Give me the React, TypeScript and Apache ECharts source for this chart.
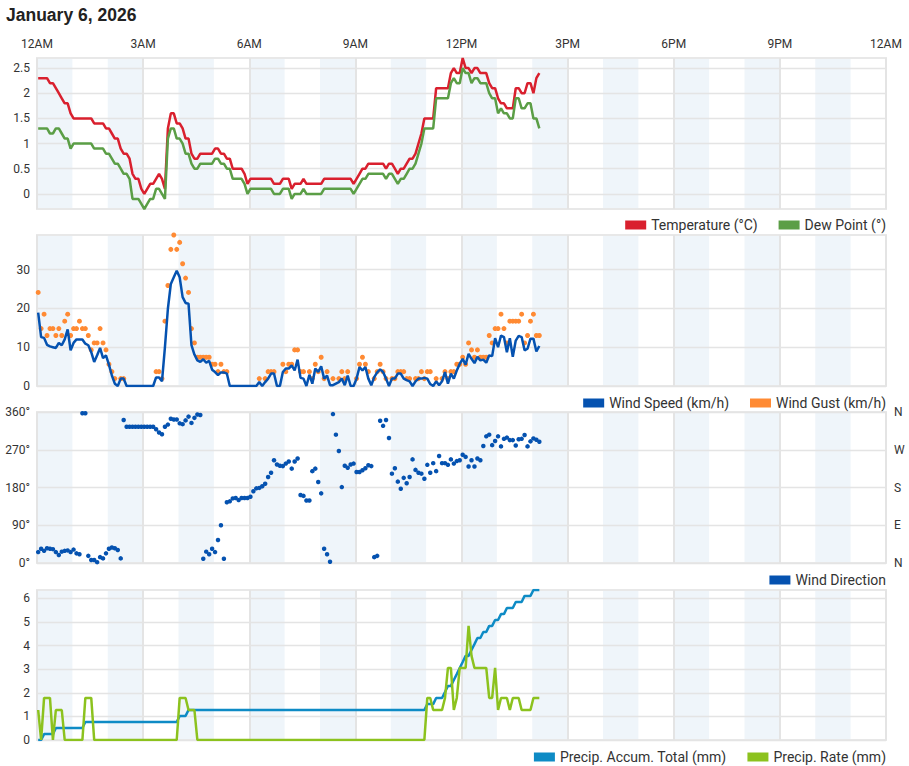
import React, { useEffect, useRef } from "react";
import * as echarts from "echarts";

// ---- time axis ----
const TIME_LABELS = ["12AM", "3AM", "6AM", "9AM", "12PM", "3PM", "6PM", "9PM", "12AM"];
const FIRST_SAMPLE_MIN = 2; // first observation at 00:02
const SAMPLE_STEP_MIN = 5; // one observation every 5 minutes
const SHADED_HOURS = [0, 2, 4, 6, 8, 10, 12, 14, 16, 18, 20, 22];

// ---- panel 1 : temperature / dew point (°C) ----
const TEMP = [
  2.3, 2.3, 2.3, 2.3, 2.2, 2.2, 2.1, 2.0, 1.9, 1.8,
  1.8, 1.6, 1.5, 1.5, 1.5, 1.5, 1.5, 1.5, 1.5, 1.4,
  1.4, 1.4, 1.4, 1.3, 1.3, 1.2, 1.1, 1.1, 0.9, 0.8,
  0.8, 0.7, 0.4, 0.3, 0.3, 0.1, 0.0, 0.1, 0.2, 0.2,
  0.3, 0.4, 0.3, 0.1, 1.3, 1.6, 1.6, 1.4, 1.4, 1.3,
  1.1, 1.1, 0.8, 0.7, 0.7, 0.8, 0.8, 0.8, 0.8, 0.8,
  0.9, 0.9, 0.8, 0.8, 0.7, 0.7, 0.5, 0.5, 0.5, 0.5,
  0.4, 0.2, 0.3, 0.3, 0.3, 0.3, 0.3, 0.3, 0.3, 0.3,
  0.2, 0.2, 0.2, 0.3, 0.3, 0.3, 0.1, 0.2, 0.2, 0.2,
  0.3, 0.2, 0.2, 0.2, 0.2, 0.2, 0.2, 0.3, 0.3, 0.3,
  0.3, 0.3, 0.3, 0.3, 0.3, 0.3, 0.3, 0.2, 0.3, 0.4,
  0.5, 0.5, 0.6, 0.6, 0.6, 0.6, 0.6, 0.6, 0.5, 0.6,
  0.6, 0.5, 0.4, 0.5, 0.5, 0.6, 0.7, 0.7, 0.8, 1.0,
  1.2, 1.5, 1.5, 1.5, 1.5, 2.1, 2.1, 2.1, 2.1, 2.1,
  2.4, 2.5, 2.4, 2.4, 2.7, 2.5, 2.5, 2.4, 2.5, 2.5,
  2.4, 2.4, 2.4, 2.2, 2.1, 2.1, 1.9, 1.8, 1.8, 1.7,
  1.7, 1.7, 2.1, 2.1, 2.0, 2.0, 2.2, 2.2, 2.0, 2.3,
  2.4,
];
const DEW = [
  1.3, 1.3, 1.3, 1.3, 1.2, 1.2, 1.3, 1.3, 1.2, 1.1,
  1.1, 0.9, 1.0, 1.0, 1.0, 1.0, 1.0, 1.0, 1.0, 0.9,
  0.9, 0.9, 0.9, 0.8, 0.8, 0.7, 0.6, 0.6, 0.5, 0.4,
  0.4, 0.3, -0.1, -0.1, -0.1, -0.2, -0.3, -0.2, -0.1, -0.1,
  0.1, 0.1, 0.0, -0.1, 1.1, 1.3, 1.3, 1.1, 1.1, 1.0,
  0.8, 0.8, 0.6, 0.5, 0.5, 0.6, 0.6, 0.6, 0.6, 0.6,
  0.7, 0.7, 0.6, 0.6, 0.5, 0.5, 0.3, 0.3, 0.3, 0.3,
  0.2, 0.0, 0.1, 0.1, 0.1, 0.1, 0.1, 0.1, 0.1, 0.1,
  0.0, 0.0, 0.0, 0.1, 0.1, 0.1, -0.1, 0.0, 0.0, 0.0,
  0.1, 0.0, 0.0, 0.0, 0.0, 0.0, 0.0, 0.1, 0.1, 0.1,
  0.1, 0.1, 0.1, 0.1, 0.1, 0.1, 0.1, 0.0, 0.1, 0.2,
  0.3, 0.3, 0.4, 0.4, 0.4, 0.4, 0.4, 0.4, 0.3, 0.4,
  0.4, 0.3, 0.2, 0.3, 0.3, 0.4, 0.5, 0.5, 0.6, 0.8,
  1.0, 1.3, 1.3, 1.3, 1.3, 1.9, 1.9, 1.9, 1.9, 1.9,
  2.2, 2.3, 2.2, 2.2, 2.5, 2.4, 2.4, 2.2, 2.3, 2.3,
  2.2, 2.2, 2.2, 2.0, 1.9, 1.9, 1.6, 1.7, 1.6, 1.6,
  1.5, 1.5, 1.9, 1.9, 1.7, 1.7, 1.8, 1.8, 1.5, 1.5,
  1.3,
];
const TEMP_TICKS = [0, 0.5, 1, 1.5, 2, 2.5];

// ---- panel 2 : wind speed / gust (km/h) ----
const WIND_SPEED = [
  18.9, 12.6, 12.4, 10.6, 10.2, 10.0, 9.8, 11.1, 10.5, 12.0,
  14.6, 9.2, 11.1, 12.0, 12.0, 12.0, 10.9, 10.5, 8.7, 6.2,
  7.9, 9.8, 7.2, 7.9, 5.5, 2.7, 0.6, 0, 1.9, 1.9,
  0, 0, 0, 0, 0, 0, 0, 0, 0, 0,
  2.2, 2.2, 1.2, 10.0, 19.9, 26.3, 28.0, 29.7, 28.0, 22.9,
  21.4, 21.2, 10.5, 8.1, 6.6, 6.2, 6.9, 6.0, 6.5, 4.2,
  3.6, 2.8, 3.5, 3.5, 3.2, 0, 0, 0, 0, 0,
  0, 0, 0, 0, 0, 1.0, 0, 1.0, 1.9, 3.2,
  3.2, 0, 0, 3.6, 4.5, 4.5, 5.3, 4.0, 6.8, 2.1,
  1.9, 0, 2.9, 0.6, 4.5, 3.6, 5.1, 1.9, 2.7, 0.2,
  0.2, 0.6, 1.0, 1.9, 0.2, 2.7, 0, 0, 1.9, 4.9,
  4.0, 4.9, 1.9, 0.2, 2.3, 3.5, 4.3, 3.6, 1.9, 0,
  1.9, 1.9, 3.2, 3.2, 1.9, 1.5, 1.2, 0, 1.2, 1.9,
  1.9, 2.1, 1.9, 0.5, 0, 1.2, 0.2, 1.2, 3.6, 0.6,
  3.2, 1.9, 4.0, 5.7, 7.0, 5.5, 8.3, 7.0, 5.9, 7.5,
  6.6, 6.8, 6.0, 7.9, 7.7, 12.3, 10.0, 13.0, 12.6, 8.7,
  12.3, 7.5, 11.7, 12.9, 12.6, 9.2, 9.6, 12.2, 12.2, 8.9,
  10.3,
];
const WIND_GUST = [
  24.1, 14.8, 18.5, 13.0, 14.8, 14.8, 13.0, 14.8, 13.0, 16.7,
  18.5, 13.0, 14.8, 14.8, 16.7, 14.8, 14.8, 13.0, 9.3, 11.1,
  11.1, 14.8, 11.1, 9.3, 5.6, 3.7, 1.9, null, 1.9, 1.9,
  null, null, null, null, null, null, null, null, null, null,
  3.7, 3.7, 1.9, 16.7, 25.9, 35.2, 38.9, 35.2, 37.0, 31.5,
  27.8, 24.1, 14.8, 11.1, 7.4, 7.4, 7.4, 7.4, 7.4, 5.6,
  5.6, 3.7, 5.6, 3.7, 3.7, null, null, null, null, null,
  null, null, null, null, null, 1.9, null, 1.9, 3.7, 3.7,
  3.7, null, null, 5.6, 3.7, 5.6, 5.6, 9.3, 9.3, 3.7,
  3.7, null, 3.7, 1.9, 5.6, 3.7, 7.4, 1.9, 3.7, null,
  1.9, null, 1.9, 3.7, 1.9, 3.7, null, null, 1.9, 5.6,
  7.4, 5.6, 3.7, null, 1.9, 3.7, 5.6, 3.7, 1.9, null,
  1.9, 1.9, 3.7, 3.7, 3.7, 1.9, 1.9, null, 1.9, 1.9,
  3.7, 1.9, 3.7, 3.7, null, 1.9, null, 1.9, 3.7, 1.9,
  3.7, 3.7, 5.6, 5.6, 7.4, 5.6, 11.1, 9.3, 7.4, 9.3,
  7.4, 7.4, 7.4, 13.0, 11.1, 14.8, 14.8, 18.5, 14.8, 11.1,
  16.7, 16.7, 16.7, 16.7, 18.5, 11.1, 13.0, 16.7, 18.5, 13.0,
  13.0,
];
const WIND_TICKS = [0, 10, 20, 30];
const WIND_MAX = 38.9;

// ---- panel 3 : wind direction (degrees) ----
const WIND_DIR = [
  26, 34, 29, 35, 34, 33, 26, 19, 27, 29,
  30, 26, 32, 23, 21, 357, 357, 17, 7, 7,
  2, 14, 11, 23, 34, 37, 35, 31, 11, 341,
  325, 325, 325, 325, 325, 325, 325, 325, 325, 325,
  319, 311, 307, 325, 330, 344, 342, 342, 333, 331,
  340, 349, 334, 346, 354, 353, 10, 27, 21, 34,
  26, 55, 90, 10, 145, 147, 154, 155, 150, 155,
  155, 155, 158, 171, 178, 179, 183, 189, 205, 215,
  245, 235, 232, 231, 237, 242, 225, 242, 249, 162,
  160, 149, 149, 219, 225, 193, 166, 34, 21, 3,
  355, 306, 267, 181, 232, 227, 235, 237, 217, 217,
  221, 226, 233, 231, 14, 17, 339, 327, 341, 298,
  213, 226, 194, 177, 203, 190, 205, 247, 222, 215,
  213, 201, 234, 215, 238, 219, 255, 238, 238, 234,
  247, 237, 243, 245, 258, 253, 230, 245, 230, 249,
  245, 279, 302, 306, 281, 291, 302, 278, 296, 299,
  293, 293, 280, 295, 296, 305, 278, 290, 297, 294,
  289,
];
const DIR_TICKS = [0, 90, 180, 270, 360];
const DIR_NAMES = ["N", "E", "S", "W", "N"];

// ---- panel 4 : precipitation (mm) ----
const PRECIP_ACCUM = [
  0, 0, 0.25, 0.25, 0.25, 0.25, 0.51, 0.51, 0.51, 0.51,
  0.51, 0.51, 0.51, 0.51, 0.51, 0.51, 0.76, 0.76, 0.76, 0.76,
  0.76, 0.76, 0.76, 0.76, 0.76, 0.76, 0.76, 0.76, 0.76, 0.76,
  0.76, 0.76, 0.76, 0.76, 0.76, 0.76, 0.76, 0.76, 0.76, 0.76,
  0.76, 0.76, 0.76, 0.76, 0.76, 0.76, 0.76, 0.76, 1.02, 1.02,
  1.02, 1.27, 1.27, 1.27, 1.27, 1.27, 1.27, 1.27, 1.27, 1.27,
  1.27, 1.27, 1.27, 1.27, 1.27, 1.27, 1.27, 1.27, 1.27, 1.27,
  1.27, 1.27, 1.27, 1.27, 1.27, 1.27, 1.27, 1.27, 1.27, 1.27,
  1.27, 1.27, 1.27, 1.27, 1.27, 1.27, 1.27, 1.27, 1.27, 1.27,
  1.27, 1.27, 1.27, 1.27, 1.27, 1.27, 1.27, 1.27, 1.27, 1.27,
  1.27, 1.27, 1.27, 1.27, 1.27, 1.27, 1.27, 1.27, 1.27, 1.27,
  1.27, 1.27, 1.27, 1.27, 1.27, 1.27, 1.27, 1.27, 1.27, 1.27,
  1.27, 1.27, 1.27, 1.27, 1.27, 1.27, 1.27, 1.27, 1.27, 1.27,
  1.27, 1.27, 1.52, 1.52, 1.52, 1.78, 1.78, 1.78, 2.03, 2.29,
  2.29, 2.54, 2.79, 3.05, 3.3, 3.56, 3.56, 3.81, 4.06, 4.32,
  4.32, 4.57, 4.57, 4.83, 4.83, 5.08, 5.08, 5.33, 5.33, 5.59,
  5.59, 5.59, 5.84, 5.84, 5.84, 6.1, 6.1, 6.1, 6.35, 6.35,
  6.35,
];
const PRECIP_RATE = [
  1.27, 0, 1.78, 1.78, 1.78, 0, 1.27, 1.27, 1.27, 0,
  0, 0, 0, 0, 0, 0, 1.78, 1.78, 1.78, 0,
  0, 0, 0, 0, 0, 0, 0, 0, 0, 0,
  0, 0, 0, 0, 0, 0, 0, 0, 0, 0,
  0, 0, 0, 0, 0, 0, 0, 0, 1.78, 1.78,
  1.78, 1.27, 1.27, 1.27, 0, 0, 0, 0, 0, 0,
  0, 0, 0, 0, 0, 0, 0, 0, 0, 0,
  0, 0, 0, 0, 0, 0, 0, 0, 0, 0,
  0, 0, 0, 0, 0, 0, 0, 0, 0, 0,
  0, 0, 0, 0, 0, 0, 0, 0, 0, 0,
  0, 0, 0, 0, 0, 0, 0, 0, 0, 0,
  0, 0, 0, 0, 0, 0, 0, 0, 0, 0,
  0, 0, 0, 0, 0, 0, 0, 0, 0, 0,
  0, 0, 1.78, 1.78, 1.27, 1.27, 1.27, 1.27, 1.78, 3.05,
  3.05, 1.27, 1.78, 3.05, 3.05, 3.05, 4.83, 3.56, 3.05, 3.05,
  3.05, 3.05, 3.05, 1.78, 1.78, 3.05, 1.27, 1.78, 1.78, 1.78,
  1.27, 1.78, 1.78, 1.78, 1.27, 1.27, 1.27, 1.27, 1.78, 1.78,
  1.78,
];
const PRECIP_TICKS = [0, 1, 2, 3, 4, 5, 6];
const PRECIP_MAX = 6.35;

// ---- styling ----
const C_TEMP = "#d9202e";
const C_DEW = "#5b9e46";
const C_WIND = "#0552b0";
const C_GUST = "#ff8a33";
const C_DIR = "#0552b0";
const C_ACCUM = "#0e8bc5";
const C_RATE = "#8cc21e";
const C_BAND = "#eff5fa";
const C_GRID = "#e4e4e4";
const FONT = "Roboto, 'Liberation Sans', Arial, sans-serif";

const GRIDS = [
  { top: 58, height: 151 },
  { top: 235, height: 151 },
  { top: 412, height: 151 },
  { top: 590, height: 150 },
];
const LEGEND_TOPS = [213, 391, 568, 745];

const toPoints = (arr: (number | null)[]) =>
  arr.map((v, i) => [FIRST_SAMPLE_MIN + SAMPLE_STEP_MIN * i, v]);

function buildOption() {
  const bands = SHADED_HOURS.map((h) => [{ xAxis: h * 60 }, { xAxis: (h + 1) * 60 }]);
  const labelStyle = { fontFamily: FONT, fontSize: 12, color: "#333" };

  const grid = GRIDS.map((g) => ({
    left: 37,
    right: 23,
    top: g.top,
    height: g.height,
    show: true,
    borderColor: "#e8e8e8",
    borderWidth: 2,
    backgroundColor: "transparent",
  }));

  const xAxis = GRIDS.map((_, k) => ({
    type: "value",
    gridIndex: k,
    min: 0,
    max: 1440,
    interval: 180,
    position: "top",
    axisLine: { show: false },
    axisTick: { show: false },
    axisLabel: {
      show: k === 0,
      ...labelStyle,
      margin: 8,
      formatter: (v: number) => TIME_LABELS[Math.round(v / 180)] ?? "",
    },
    splitLine: { show: true, lineStyle: { color: C_GRID, width: 2 } },
  }));

  const yBase = (gridIndex: number, min: number, max: number, ticks: number[]) => ({
    type: "value",
    gridIndex,
    min,
    max,
    axisLine: { show: false },
    axisTick: { show: false, customValues: ticks },
    axisLabel: { ...labelStyle, margin: 7, customValues: ticks },
    splitLine: { show: true, lineStyle: { color: C_GRID, width: 1.3 } },
  });

  const yAxis: any[] = [
    yBase(0, -0.3, 2.7, TEMP_TICKS),
    yBase(1, 0, WIND_MAX, WIND_TICKS),
    {
      ...yBase(2, 0, 360, DIR_TICKS),
      axisLabel: { ...labelStyle, margin: 7, customValues: DIR_TICKS, formatter: (v: number) => `${v}°` },
    },
    {
      type: "value",
      gridIndex: 2,
      position: "right",
      min: 0,
      max: 360,
      axisLine: { show: false },
      axisTick: { show: false, customValues: DIR_TICKS },
      axisLabel: {
        ...labelStyle,
        margin: 8,
        customValues: DIR_TICKS,
        formatter: (v: number) => DIR_NAMES[DIR_TICKS.indexOf(v)] ?? "",
      },
      splitLine: { show: false },
    },
    yBase(3, 0, PRECIP_MAX, PRECIP_TICKS),
  ];
  const yForGrid = [0, 1, 2, 4];

  const bandSeries = GRIDS.map((_, k) => ({
    type: "line",
    xAxisIndex: k,
    yAxisIndex: yForGrid[k],
    data: [],
    silent: true,
    z: -1,
    markArea: { silent: true, z: -1, itemStyle: { color: C_BAND }, data: bands },
  }));

  const line = (name: string, data: any[], color: string, x: number, y: number) => ({
    name,
    type: "line",
    xAxisIndex: x,
    yAxisIndex: y,
    data,
    showSymbol: false,
    color,
    lineStyle: { color, width: 2.5 },
  });
  const dots = (name: string, data: any[], color: string, x: number, y: number, size: number) => ({
    name,
    type: "scatter",
    xAxisIndex: x,
    yAxisIndex: y,
    data,
    symbolSize: size,
    color,
    itemStyle: { color, opacity: 1 },
  });

  const legend = (names: string[], k: number) => ({
    data: names,
    right: 18,
    top: LEGEND_TOPS[k],
    icon: "rect",
    itemWidth: 21,
    itemHeight: 9,
    itemGap: 21,
    selectedMode: false,
    itemStyle: { opacity: 1 },
    textStyle: { fontFamily: FONT, fontSize: 14, color: "#333" },
  });

  return {
    animation: false,
    backgroundColor: "#ffffff",
    title: {
      text: "January 6, 2026",
      left: 6,
      top: 6,
      padding: 0,
      textStyle: { fontFamily: "'Liberation Sans', Arial, sans-serif", fontSize: 17.5, fontWeight: "bold", color: "#222" },
    },
    legend: [
      legend(["Temperature (°C)", "Dew Point (°)"], 0),
      legend(["Wind Speed (km/h)", "Wind Gust (km/h)"], 1),
      legend(["Wind Direction"], 2),
      legend(["Precip. Accum. Total (mm)", "Precip. Rate (mm)"], 3),
    ],
    grid,
    xAxis,
    yAxis,
    series: [
      ...bandSeries,
      line("Temperature (°C)", toPoints(TEMP), C_TEMP, 0, 0),
      line("Dew Point (°)", toPoints(DEW), C_DEW, 0, 0),
      line("Wind Speed (km/h)", toPoints(WIND_SPEED), C_WIND, 1, 1),
      dots("Wind Gust (km/h)", toPoints(WIND_GUST).filter((p) => p[1] !== null), C_GUST, 1, 1, 5),
      dots("Wind Direction", toPoints(WIND_DIR), C_DIR, 2, 2, 4.5),
      line("Precip. Accum. Total (mm)", toPoints(PRECIP_ACCUM), C_ACCUM, 3, 4),
      line("Precip. Rate (mm)", toPoints(PRECIP_RATE), C_RATE, 3, 4),
    ],
  };
}

export default function App() {
  const ref = useRef<HTMLDivElement>(null);
  useEffect(() => {
    document.body.style.margin = "0";
    if (!ref.current) return;
    const chart = echarts.init(ref.current, undefined, { renderer: "svg" });
    chart.setOption(buildOption() as any);
    return () => chart.dispose();
  }, []);
  return <div ref={ref} style={{ width: 909, height: 766 }} />;
}
